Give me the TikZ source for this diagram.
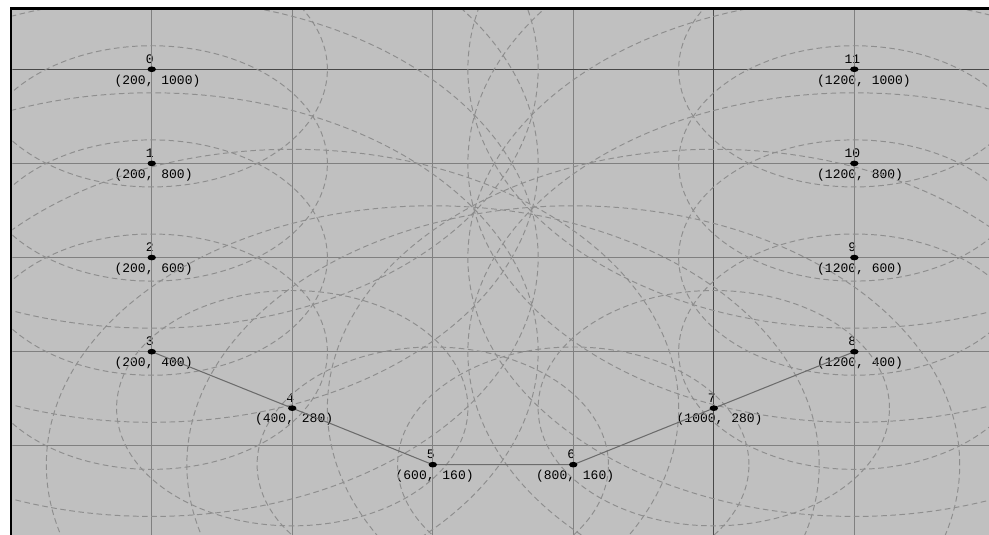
\documentclass[tikz,border=0pt]{standalone}
\usepackage{fontspec}
\newfontfamily\plotfont{Liberation Mono}
\usetikzlibrary{positioning}
\definecolor{PLpanel}{RGB}{192,192,192}
\definecolor{PLgrid}{RGB}{128,128,128}
\definecolor{PLmajor}{RGB}{72,72,72}
\definecolor{PLring}{RGB}{142,142,142}
\definecolor{PLpath}{RGB}{108,108,108}
\tikzset{
  gridline/.style={draw=PLgrid,line width=0.55pt},
  majorline/.style={draw=PLmajor,line width=0.6pt},
  ring/.style={draw=PLring,line width=0.55pt,dash pattern=on 3.2pt off 2pt},
  route/.style={draw=PLpath,line width=0.6pt},
  dot/.style={fill=black},
  idx/.style={font=\plotfont\fontsize{7.4}{8}\selectfont,text=black,inner sep=0pt,anchor=base},
  xylbl/.style={font=\plotfont\fontsize{7.4}{8}\selectfont,text=black,inner sep=0pt,anchor=base west}
}
\begin{document}
\begin{tikzpicture}[x=0.014052cm,y=0.009418cm]
  \useasboundingbox (-15.94,11.04) rectangle (1391.7,1147.2);
  \fill[white] (-15.94,11.04) rectangle (1391.7,1147.2);
  \fill[black] (-1.71,11.04) rectangle (1391.7,1132.3);
  \fill[PLpanel] (1.85,11.04) rectangle (1391.7,1125.9);

  % sample points
  \foreach \i/\px/\py in {0/200/1000,1/200/800,2/200/600,3/200/400,4/400/280,5/600/160,
                          6/800/160,7/1000/280,8/1200/400,9/1200/600,10/1200/800,11/1200/1000}{
    \coordinate (p\i) at (\px,\py);
    \node[idx] (n\i) at ([xshift=-0.04cm,yshift=0.12cm]p\i) {\i};
    \node[xylbl] (c\i) at ([xshift=-0.75cm,yshift=-0.295cm]p\i) {(\px, \py)};
  }

  \begin{scope}
    \clip (1.85,11.04) rectangle (1391.7,1125.9);
    \foreach \gx in {200,400,600,800,1200}
      \draw[gridline] (\gx,11.04) -- (\gx,1125.9);
    \foreach \gy in {200,400,600,800}
      \draw[gridline] (1.85,\gy) -- (1391.7,\gy);
    \draw[majorline] (1000,11.04) -- (1000,1125.9);
    \draw[majorline] (1.85,1000) -- (1391.7,1000);
    % tolerance rings
    \foreach \i in {0,...,11}{
      \draw[ring] (p\i) circle[radius=250];
      \draw[ring] (p\i) circle[radius=550];
    }
  \end{scope}

  \draw[route] (p3) -- (p4) -- (p5) -- (p6) -- (p7) -- (p8);
  \foreach \i in {0,...,11}
    \fill[dot] (p\i) circle[radius=6];
\end{tikzpicture}
\end{document}
